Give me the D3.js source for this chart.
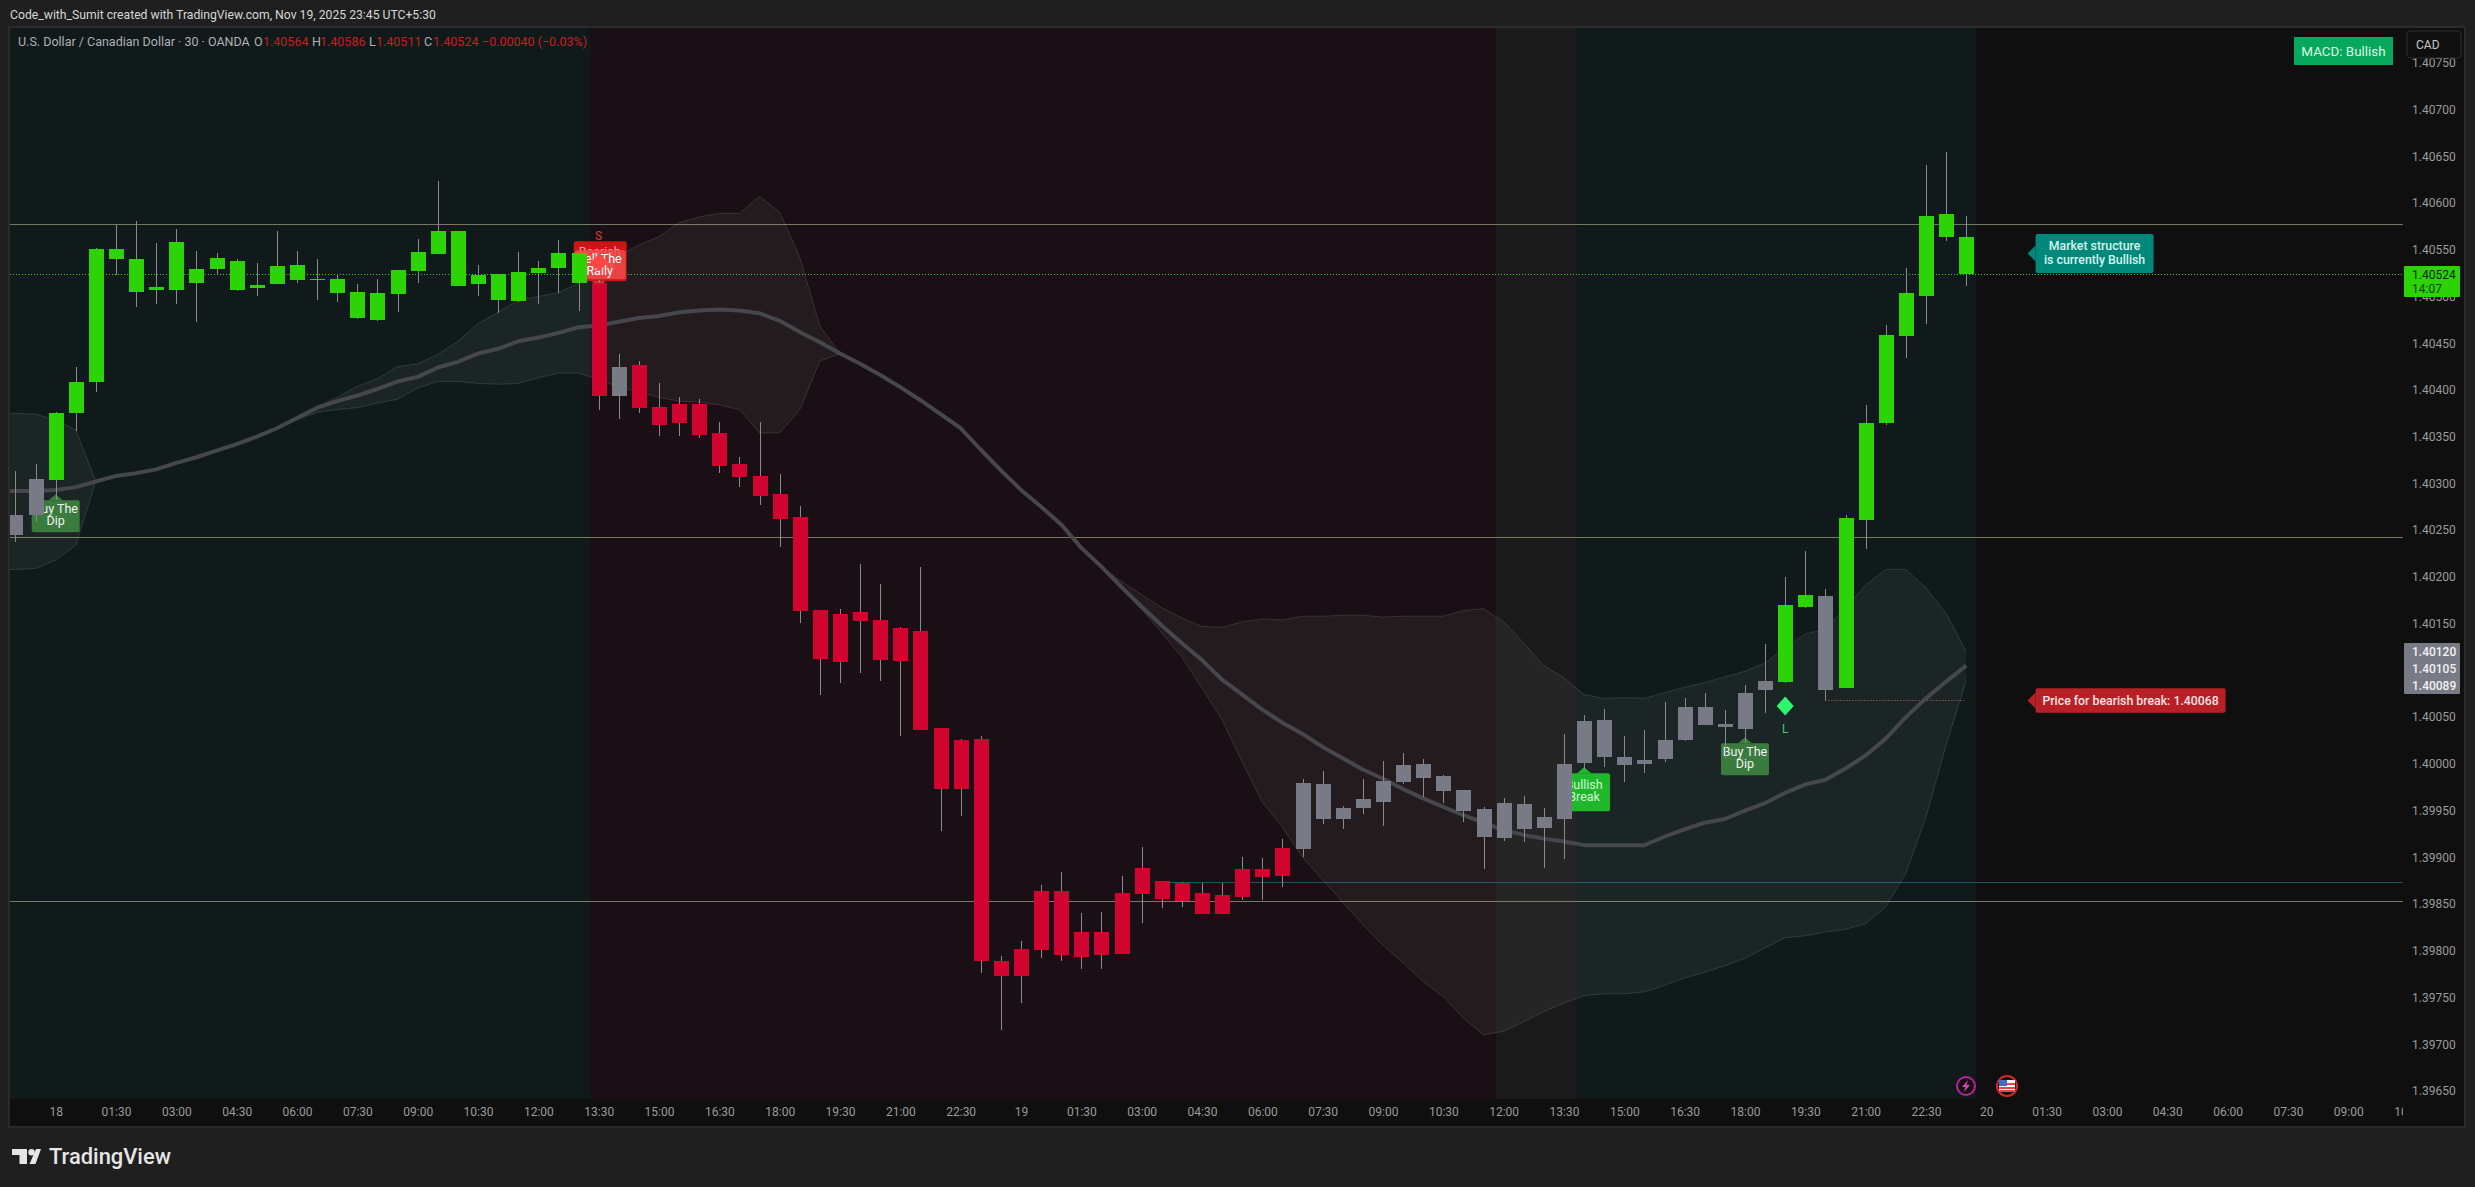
<!DOCTYPE html>
<html>
<head>
<meta charset="utf-8">
<title>USDCAD 30</title>
<script src="https://cdn.jsdelivr.net/npm/d3@7"></script>
<style>
  body { margin: 0; background: #1f1f1f; }
  text { font-family: Roboto, sans-serif; }
  .axis text { font-family: Roboto, sans-serif; font-size: 12px; fill: #9b9b9b; }
  .axis .domain { display: none; }
</style>
</head>
<body>
<div id="chart"></div>
<script>
var W = 2475, H = 1187;

// bar index: 0 is Nov 18 00:00, one bar per 30 minutes
var firstBar = -2;
var candleState = ("nn" + "ggggggggg" + "ggggggggg" + "ggggggggg" + "r" + "n" +
  "rrrrrrrrrrr" + "rrrrrrrrrrr" + "rrrrrrrrrrr" + "nnnnnnnnnnnn" + "nnnnnnnnnnnn" +
  "gg" + "n" + "ggggggg").split("");

var bodyHigh = [1.40266,1.40305,1.40375,1.40409,1.40551,1.40551,1.40540,1.40510,1.40558,1.40529,
  1.40541,1.40538,1.40512,1.40533,1.40534,1.40519,1.40519,1.40505,1.40504,1.40528,
  1.40548,1.40570,1.40570,1.40523,1.40524,1.40526,1.40530,1.40546,1.40546,1.40514,
  1.40425,1.40427,1.40382,1.40385,1.40385,1.40354,1.40321,1.40308,1.40289,1.40264,
  1.40165,1.40160,1.40162,1.40154,1.40145,1.40142,1.40038,1.40026,1.40027,1.39789,
  1.39802,1.39864,1.39864,1.39820,1.39820,1.39862,1.39889,1.39875,1.39873,1.39862,
  1.39860,1.39887,1.39888,1.39910,1.39979,1.39978,1.39953,1.39962,1.39982,1.39999,
  1.40000,1.39987,1.39972,1.39952,1.39958,1.39957,1.39943,1.40000,1.40046,1.40047,
  1.40007,1.40004,1.40025,1.40061,1.40061,1.40043,1.40076,1.40089,1.40170,1.40181,
  1.40180,1.40263,1.40365,1.40459,1.40504,1.40586,1.40588,1.40564];

var bodyLow = [1.40245,1.40266,1.40304,1.40375,1.40409,1.40540,1.40505,1.40507,1.40507,1.40514,
  1.40529,1.40507,1.40509,1.40513,1.40518,1.40518,1.40504,1.40477,1.40475,1.40503,
  1.40527,1.40545,1.40511,1.40513,1.40496,1.40495,1.40525,1.40530,1.40514,1.40393,
  1.40394,1.40381,1.40362,1.40365,1.40352,1.40319,1.40307,1.40287,1.40262,1.40164,
  1.40112,1.40109,1.40153,1.40111,1.40110,1.40036,1.39973,1.39973,1.39789,1.39773,
  1.39773,1.39801,1.39795,1.39793,1.39795,1.39797,1.39861,1.39855,1.39853,1.39839,
  1.39839,1.39858,1.39879,1.39880,1.39909,1.39941,1.39941,1.39953,1.39959,1.39981,
  1.39985,1.39971,1.39950,1.39922,1.39921,1.39930,1.39931,1.39941,1.40001,1.40007,
  1.39999,1.40000,1.40005,1.40025,1.40042,1.40039,1.40037,1.40079,1.40088,1.40168,
  1.40079,1.40081,1.40261,1.40365,1.40458,1.40501,1.40564,1.40524];

var wickHigh = [1.40313,1.40321,1.40376,1.40425,1.40552,1.40576,1.40581,1.40557,1.40572,1.40549,
  1.40546,1.40540,1.40536,1.40570,1.40549,1.40540,1.40524,1.40513,1.40519,1.40528,
  1.40561,1.40623,1.40570,1.40534,1.40524,1.40548,1.40538,1.40560,1.40546,1.40518,
  1.40438,1.40431,1.40407,1.40392,1.40390,1.40366,1.40328,1.40366,1.40310,1.40276,
  1.40165,1.40166,1.40214,1.40192,1.40146,1.40211,1.40038,1.40027,1.40030,1.39794,
  1.39810,1.39870,1.39884,1.39840,1.39842,1.39880,1.39911,1.39875,1.39874,1.39873,
  1.39873,1.39900,1.39899,1.39920,1.39984,1.39992,1.39955,1.39984,1.40003,1.40012,
  1.40005,1.39988,1.39972,1.39954,1.39963,1.39966,1.39953,1.40032,1.40052,1.40059,
  1.40030,1.40036,1.40066,1.40070,1.40076,1.40058,1.40084,1.40128,1.40200,1.40228,
  1.40187,1.40266,1.40384,1.40469,1.40530,1.40641,1.40655,1.40586];

var wickLow = [1.40237,1.40259,1.40282,1.40356,1.40398,1.40523,1.40489,1.40492,1.40492,1.40473,
  1.40523,1.40506,1.40500,1.40513,1.40514,1.40496,1.40494,1.40476,1.40474,1.40483,
  1.40514,1.40545,1.40511,1.40500,1.40482,1.40494,1.40492,1.40504,1.40484,1.40378,
  1.40369,1.40375,1.40351,1.40351,1.40349,1.40311,1.40296,1.40277,1.40232,1.40151,
  1.40074,1.40087,1.40097,1.40089,1.40030,1.40036,1.39928,1.39944,1.39776,1.39715,
  1.39744,1.39792,1.39789,1.39780,1.39780,1.39797,1.39830,1.39846,1.39847,1.39839,
  1.39839,1.39854,1.39854,1.39868,1.39900,1.39936,1.39930,1.39946,1.39934,1.39978,
  1.39964,1.39958,1.39938,1.39888,1.39917,1.39916,1.39889,1.39898,1.39993,1.39997,
  1.39981,1.39990,1.40002,1.40024,1.40042,1.40006,1.40022,1.40054,1.40087,1.40167,
  1.40068,1.40081,1.40230,1.40362,1.40434,1.40471,1.40559,1.40511];

// moving average and its band, starting one bar left of the frame
var firstBandBar = -3;
var maValues = [1.40292,1.40292,1.40292,1.40293,1.40296,1.40302,1.40308,1.40311,1.40315,1.40322,
  1.40328,1.40335,1.40342,1.40350,1.40359,1.40370,1.40381,1.40388,1.40394,1.40401,
  1.40409,1.40414,1.40424,1.40430,1.40439,1.40444,1.40452,1.40456,1.40461,1.40467,
  1.40469,1.40473,1.40477,1.40479,1.40483,1.40485,1.40486,1.40485,1.40482,1.40474,
  1.40462,1.40451,1.40439,1.40428,1.40416,1.40403,1.40389,1.40374,1.40359,1.40336,
  1.40314,1.40293,1.40275,1.40256,1.40231,1.40211,1.40189,1.40168,1.40148,1.40129,
  1.40111,1.40090,1.40074,1.40058,1.40044,1.40032,1.40018,1.40006,1.39994,1.39984,
  1.39973,1.39963,1.39954,1.39945,1.39937,1.39929,1.39924,1.39920,1.39917,1.39913,
  1.39913,1.39913,1.39913,1.39922,1.39930,1.39937,1.39941,1.39950,1.39958,1.39969,
  1.39978,1.39983,1.39995,1.40009,1.40027,1.40050,1.40070,1.40088,1.40105];

var bandUpper = [1.40375,1.40375,1.40374,1.40368,1.40357,1.40302,1.40308,1.40311,1.40315,1.40322,
  1.40328,1.40335,1.40342,1.40350,1.40359,1.40370,1.40382,1.40392,1.40404,1.40412,
  1.40425,1.40428,1.40438,1.40452,1.40471,1.40483,1.40496,1.40500,1.40504,1.40514,
  1.40534,1.40544,1.40555,1.40564,1.40579,1.40585,1.40589,1.40589,1.40607,1.40590,
  1.40542,1.40468,1.40439,1.40428,1.40416,1.40403,1.40389,1.40374,1.40359,1.40336,
  1.40314,1.40293,1.40275,1.40256,1.40231,1.40211,1.40195,1.40181,1.40167,1.40156,
  1.40147,1.40146,1.40152,1.40155,1.40154,1.40158,1.40158,1.40159,1.40159,1.40157,
  1.40158,1.40158,1.40158,1.40164,1.40166,1.40152,1.40129,1.40105,1.40092,1.40074,
  1.40070,1.40071,1.40070,1.40076,1.40082,1.40087,1.40093,1.40099,1.40108,1.40124,
  1.40139,1.40144,1.40167,1.40191,1.40208,1.40208,1.40188,1.40161,1.40120];

var bandLower = [1.40208,1.40208,1.40209,1.40218,1.40234,1.40302,1.40308,1.40311,1.40315,1.40322,
  1.40328,1.40335,1.40342,1.40350,1.40359,1.40368,1.40376,1.40379,1.40381,1.40386,
  1.40390,1.40402,1.40409,1.40409,1.40407,1.40406,1.40407,1.40413,1.40418,1.40418,
  1.40411,1.40403,1.40398,1.40392,1.40388,1.40387,1.40384,1.40379,1.40354,1.40354,
  1.40379,1.40431,1.40439,1.40428,1.40416,1.40403,1.40389,1.40374,1.40359,1.40336,
  1.40314,1.40293,1.40275,1.40256,1.40231,1.40211,1.40187,1.40165,1.40140,1.40114,
  1.40081,1.40047,1.40002,1.39959,1.39932,1.39900,1.39876,1.39852,1.39828,1.39806,
  1.39787,1.39767,1.39751,1.39728,1.39710,1.39714,1.39724,1.39735,1.39744,1.39752,
  1.39754,1.39754,1.39756,1.39763,1.39771,1.39777,1.39784,1.39792,1.39803,1.39814,
  1.39816,1.39820,1.39823,1.39829,1.39847,1.39883,1.39943,1.40020,1.40089];

var priceTicks = [1.4075,1.407,1.4065,1.406,1.4055,1.405,1.4045,1.404,1.4035,1.403,1.4025,1.402,
  1.4015,1.401,1.4005,1.4,1.3995,1.399,1.3985,1.398,1.3975,1.397,1.3965];

// one label every three bars
var timeLabels = ["18","01:30","03:00","04:30","06:00","07:30","09:00","10:30","12:00","13:30","15:00","16:30",
  "18:00","19:30","21:00","22:30","19","01:30","03:00","04:30","06:00","07:30","09:00","10:30","12:00","13:30",
  "15:00","16:30","18:00","19:30","21:00","22:30","20","01:30","03:00","04:30","06:00","07:30","09:00","10:30"];

var levelPrices = [1.40578, 1.40243, 1.39853];
var supportPrice = 1.39874, supportFromBar = 55.4;
var lastPrice = 1.40524;
var breakPrice = 1.40068, breakFromBar = 88, breakToBar = 95;

var regimeFrom = [-4, 26.6, 71.6, 75.6];
var regimeTo = [26.6, 71.6, 75.6, 95.5];
var regimeFill = ["#101a1b", "#190f14", "#1a1a1a", "#101a1b"];

var ohlcLabels = ["1.40564", "1.40586", "1.40511", "1.40524"];
var stateColor = {g: "#2cd405", r: "#d10430", n: "#787b86"};

var plot = {left: 10, right: 2403, top: 28, bottom: 1099};

var x = d3.scaleLinear().domain([0, 114]).range([55.7, 2348.3]);
var y = d3.scaleLinear().domain([1.407, 1.3965]).range([109.5, 1091]);

var svg = d3.select("#chart").append("svg")
  .attr("width", W)
  .attr("height", H)
  .style("display", "block");

var defs = svg.append("defs");
defs.append("clipPath").attr("id", "plotClip").append("rect")
  .attr("x", plot.left).attr("y", plot.top)
  .attr("width", plot.right - plot.left).attr("height", plot.bottom - plot.top);
defs.append("clipPath").attr("id", "timeClip").append("rect")
  .attr("x", plot.left).attr("y", plot.bottom)
  .attr("width", plot.right - plot.left).attr("height", 28);

// page and frame
svg.append("rect").attr("width", W).attr("height", H).attr("fill", "#1f1f1f");
svg.append("rect")
  .attr("x", 9).attr("y", 27)
  .attr("width", 2456).attr("height", 1100)
  .attr("fill", "#0f0f0f")
  .attr("stroke", "#2b2b2b")
  .attr("stroke-width", 2);

svg.append("text")
  .attr("x", 10).attr("y", 19)
  .attr("fill", "#d6d6d6")
  .style("font-size", "12.2px")
  .text("Code_with_Sumit created with TradingView.com, Nov 19, 2025 23:45 UTC+5:30");

var g = svg.append("g").attr("clip-path", "url(#plotClip)");

g.selectAll(".regime")
  .data(regimeFrom)
  .enter().append("rect")
  .attr("class", "regime")
  .attr("x", function(d) { return x(d); })
  .attr("y", plot.top)
  .attr("width", function(d, i) { return x(regimeTo[i]) - x(d); })
  .attr("height", plot.bottom - plot.top)
  .attr("fill", function(d, i) { return regimeFill[i]; });

// horizontal levels
g.selectAll(".level")
  .data(levelPrices)
  .enter().append("line")
  .attr("class", "level")
  .attr("x1", plot.left).attr("x2", plot.right)
  .attr("y1", function(d) { return Math.round(y(d)) + 0.5; })
  .attr("y2", function(d) { return Math.round(y(d)) + 0.5; })
  .attr("stroke", "#777768");

g.append("line")
  .attr("x1", x(supportFromBar)).attr("x2", plot.right)
  .attr("y1", Math.round(y(supportPrice)) + 0.5).attr("y2", Math.round(y(supportPrice)) + 0.5)
  .attr("stroke", "#1d5563");

g.append("line")
  .attr("x1", plot.left).attr("x2", plot.right)
  .attr("y1", Math.round(y(lastPrice)) + 0.5).attr("y2", Math.round(y(lastPrice)) + 0.5)
  .attr("stroke", "#2cd405")
  .attr("stroke-dasharray", "1 2");

g.append("line")
  .attr("x1", x(breakFromBar)).attr("x2", x(breakToBar))
  .attr("y1", Math.round(y(breakPrice)) + 0.5).attr("y2", Math.round(y(breakPrice)) + 0.5)
  .attr("stroke", "#e0504c")
  .attr("stroke-dasharray", "1 2");

// band
var bandBars = maValues.map(function(d, i) { return firstBandBar + i; });

var bandArea = d3.area()
  .x(function(d) { return x(bandBars[d]); })
  .y0(function(d) { return y(bandLower[d]); })
  .y1(function(d) { return y(bandUpper[d]); });

function seriesLine(values) {
  return d3.line()
    .x(function(d, i) { return x(bandBars[i]); })
    .y(function(d) { return y(d); })(values);
}

g.append("path")
  .attr("d", bandArea(d3.range(bandBars.length)))
  .attr("fill", "#ffffff")
  .attr("fill-opacity", 0.05);

[bandUpper, bandLower].forEach(function(values) {
  g.append("path")
    .attr("d", seriesLine(values))
    .attr("fill", "none")
    .attr("stroke", "#ffffff")
    .attr("stroke-opacity", 0.12);
});

g.append("path")
  .attr("d", seriesLine(maValues))
  .attr("fill", "none")
  .attr("stroke", "#46474d")
  .attr("stroke-width", 4)
  .attr("stroke-linejoin", "round");

// signal labels sit under the candles
function bubble(cx, top, w, h, fill, opacity) {
  var pts = [[cx - 7, top], [cx, top - 6], [cx + 7, top]];
  var lab = g.append("g").attr("fill-opacity", opacity === undefined ? 1 : opacity);
  lab.append("rect")
    .attr("x", cx - w / 2).attr("y", top)
    .attr("width", w).attr("height", h)
    .attr("rx", 2)
    .attr("fill", fill);
  lab.append("polygon").attr("points", pts.join(" ")).attr("fill", fill);
  return lab;
}

function twoLines(sel, cx, y1, y2, a, b, color, size) {
  [[a, y1], [b, y2]].forEach(function(d) {
    sel.append("text")
      .attr("x", cx).attr("y", d[1])
      .attr("text-anchor", "middle")
      .attr("fill", color)
      .style("font-size", (size || 12.5) + "px")
      .text(d[0]);
  });
}

var dip1 = bubble(x(0), y(1.40282), 48, 32, "#3a7b3e");
twoLines(dip1, x(0), y(1.40282) + 13, y(1.40282) + 25, "Buy The", "Dip", "#f2f2f2");

var dip2 = bubble(x(84), y(1.40022), 48, 32, "#3a7b3e");
twoLines(dip2, x(84), y(1.40022) + 13, y(1.40022) + 25, "Buy The", "Dip", "#f2f2f2");

var bull = bubble(x(76), y(1.39990), 52, 38, "#1fb82a");
twoLines(bull, x(76), y(1.39990) + 16, y(1.39990) + 28, "Bullish", "Break", "#d6f5d8");

// the stacked bearish labels on bar 27
var bearTop = y(1.40559);
var bear1 = g.append("g");
bear1.append("rect")
  .attr("x", x(27) - 25).attr("y", bearTop)
  .attr("width", 53).attr("height", 40)
  .attr("rx", 2)
  .attr("fill", "#cc1515");
twoLines(bear1, x(27) + 1, bearTop + 15, bearTop + 28, "Bearish", "Break", "#f2a0a0");
var bear2 = g.append("g");
bear2.append("rect")
  .attr("x", x(27) - 24).attr("y", bearTop + 9)
  .attr("width", 51).attr("height", 29)
  .attr("rx", 2)
  .attr("fill", "#ef4a4a")
  .attr("fill-opacity", 0.85);
twoLines(bear2, x(27) + 1, bearTop + 22, bearTop + 34, "Sell The", "Rally", "#ffffff");
bear2.append("polygon")
  .attr("points", [[x(27) - 7, bearTop + 40], [x(27) + 7, bearTop + 40], [x(27), bearTop + 45]].join(" "))
  .attr("fill", "#e23b3b");
g.append("path")
  .attr("d", d3.symbol().type(d3.symbolDiamond2).size(190)())
  .attr("transform", "translate(" + (x(27) + 0.5) + "," + (bearTop + 21) + ")")
  .attr("fill", "#ff4545");
g.append("text")
  .attr("x", x(27)).attr("y", bearTop - 1)
  .attr("text-anchor", "middle")
  .attr("fill", "#d83c3c")
  .style("font-size", "12px")
  .text("S");

// candles
var bars = d3.range(bodyHigh.length).map(function(i) {
  return {bar: firstBar + i, state: candleState[i], top: bodyHigh[i], bot: bodyLow[i], hi: wickHigh[i], lo: wickLow[i]};
});

var candle = g.selectAll(".candle")
  .data(bars)
  .enter().append("g")
  .attr("class", "candle")
  .attr("shape-rendering", "crispEdges");

candle.append("line")
  .attr("x1", function(d) { return Math.round(x(d.bar)) + 0.5; })
  .attr("x2", function(d) { return Math.round(x(d.bar)) + 0.5; })
  .attr("y1", function(d) { return y(d.hi); })
  .attr("y2", function(d) { return y(d.lo); })
  .attr("stroke", "#8a8a8a");

candle.append("rect")
  .attr("x", function(d) { return Math.round(x(d.bar)) - 7; })
  .attr("y", function(d) { return y(d.top); })
  .attr("width", 15)
  .attr("height", function(d) { return Math.max(1.5, y(d.bot) - y(d.top)); })
  .attr("fill", function(d) { return stateColor[d.state]; });

// long signal
g.append("path")
  .attr("d", "M0,-9.5L8.5,0L0,9.5L-8.5,0Z")
  .attr("transform", "translate(" + x(86) + ",706)")
  .attr("fill", "#2ff56c");
g.append("text")
  .attr("x", x(86)).attr("y", 733)
  .attr("text-anchor", "middle")
  .attr("fill", "#30cf78")
  .style("font-size", "12px")
  .text("L");

// right callouts
function callout(top, w, h, fill, lines, color, weight) {
  var left = x(98.45);
  var mid = top + h / 2;
  g.append("polygon")
    .attr("points", [[left, mid - 8], [left - 8, mid], [left, mid + 8]].join(" "))
    .attr("fill", fill);
  g.append("rect")
    .attr("x", left).attr("y", top)
    .attr("width", w).attr("height", h)
    .attr("rx", 2)
    .attr("fill", fill);
  lines.forEach(function(t, i) {
    g.append("text")
      .attr("x", left + w / 2)
      .attr("y", mid + 4 + (i - (lines.length - 1) / 2) * 14)
      .attr("text-anchor", "middle")
      .attr("fill", color)
      .style("font-size", "12.3px")
      .style("font-weight", weight)
      .text(t);
  });
}

callout(y(1.40546) - 19.5, 118, 39, "#00897b", ["Market structure", "is currently Bullish"], "#d8f3ef", 500);
callout(y(1.40068) - 12, 190, 24.5, "#b92025", ["Price for bearish break: 1.40068"], "#f7e3e3", 500);

// MACD box
g.append("rect")
  .attr("x", 2294).attr("y", 37)
  .attr("width", 99).attr("height", 28)
  .attr("fill", "#07a85b");
g.append("text")
  .attr("x", 2343.5).attr("y", 55.5)
  .attr("text-anchor", "middle")
  .attr("fill", "#def5e8")
  .style("font-size", "13.4px")
  .text("MACD: Bullish");

// header legend
var legend = g.append("text").attr("y", 46).style("font-size", "12.5px").attr("fill", "#aeb0b6");
legend.append("tspan").attr("x", 18).text("U.S. Dollar / Canadian Dollar · 30 · OANDA");
var ohlcNames = ["O", "H", "L", "C"];
var ohlcNameX = [254, 312, 369, 424];
var ohlcValueX = [263, 320, 376, 433];
ohlcNames.forEach(function(n, i) {
  legend.append("tspan").attr("x", ohlcNameX[i]).text(n);
  legend.append("tspan").attr("x", ohlcValueX[i]).attr("fill", "#cf1a1f").text(ohlcLabels[i]);
});
legend.append("tspan").attr("x", 482).attr("fill", "#cf1a1f").text("\u22120.00040 (\u22120.03%)");

// axes
var yAxis = d3.axisRight(y)
  .tickValues(priceTicks)
  .tickFormat(d3.format(".5f"))
  .tickSize(0)
  .tickPadding(9);

svg.append("g")
  .attr("class", "axis")
  .attr("transform", "translate(" + plot.right + ",0)")
  .call(yAxis);

var xAxis = d3.axisBottom(x)
  .tickValues(timeLabels.map(function(d, i) { return i * 3; }))
  .tickFormat(function(d) { return timeLabels[d / 3]; })
  .tickSize(0)
  .tickPadding(8);

svg.append("g")
  .attr("clip-path", "url(#timeClip)")
  .append("g")
  .attr("class", "axis")
  .attr("transform", "translate(0," + plot.bottom + ")")
  .call(xAxis);

// currency button
svg.append("rect")
  .attr("x", 2407).attr("y", 31)
  .attr("width", 54).attr("height", 27)
  .attr("rx", 4)
  .attr("fill", "#0f0f0f")
  .attr("stroke", "#2e2e2e");
svg.append("text")
  .attr("x", 2416).attr("y", 49)
  .attr("fill", "#c8c8c8")
  .style("font-size", "12px")
  .text("CAD");

// price tags
svg.append("rect")
  .attr("x", 2404).attr("y", 266)
  .attr("width", 56).attr("height", 31)
  .attr("rx", 1)
  .attr("fill", "#2cd405");
svg.append("text").attr("x", 2412).attr("y", 279).attr("fill", "#0d2208").style("font-size", "12px").text("1.40524");
svg.append("text").attr("x", 2412).attr("y", 293).attr("fill", "#16400c").style("font-size", "12px").text("14:07");

svg.append("rect")
  .attr("x", 2404).attr("y", 643)
  .attr("width", 56).attr("height", 51)
  .attr("rx", 1)
  .attr("fill", "#787b86");
var tagLabels = ["1.40120", "1.40105", "1.40089"];
var tagY = [656, 673, 690];
tagLabels.forEach(function(t, i) {
  svg.append("text")
    .attr("x", 2412).attr("y", tagY[i])
    .attr("fill", "#f2f2f2")
    .style("font-size", "12px")
    .style("font-weight", 500)
    .text(t);
});

// session icons on the bottom of the plot
var bolt = svg.append("g").attr("transform", "translate(1966,1086)");
bolt.append("circle").attr("r", 9).attr("fill", "#191014").attr("stroke", "#b5259a").attr("stroke-width", 2);
bolt.append("path").attr("d", "M2,-6L-4,1L-0.5,1L-2,6L4,-1L0.5,-1Z").attr("fill", "#d246b8");

var flag = svg.append("g").attr("transform", "translate(2007,1086)");
flag.append("circle").attr("r", 10).attr("fill", "#111").attr("stroke", "#d3252b").attr("stroke-width", 2);
flag.append("rect").attr("x", -8).attr("y", -6).attr("width", 16).attr("height", 12).attr("fill", "#f4f4f4");
flag.append("rect").attr("x", -8).attr("y", -3).attr("width", 16).attr("height", 2).attr("fill", "#e04848");
flag.append("rect").attr("x", -8).attr("y", 1).attr("width", 16).attr("height", 2).attr("fill", "#e04848");
flag.append("rect").attr("x", -8).attr("y", 4).attr("width", 16).attr("height", 2).attr("fill", "#e04848");
flag.append("rect").attr("x", -8).attr("y", -6).attr("width", 8).attr("height", 6).attr("fill", "#3f6fc4");

// footer logo
var logo = svg.append("g").attr("fill", "#e6e6e6");
logo.append("path").attr("d", "M12,1149H27V1164H19.5V1155H12Z");
logo.append("circle").attr("cx", 31.5).attr("cy", 1152.3).attr("r", 3.2);
logo.append("path").attr("d", "M36,1149H41L35.5,1164H29.5Z");
svg.append("text")
  .attr("x", 49).attr("y", 1164)
  .attr("fill", "#e6e6e6")
  .style("font-size", "21.9px")
  .style("font-weight", 500)
  .text("TradingView");
</script>
</body>
</html>
